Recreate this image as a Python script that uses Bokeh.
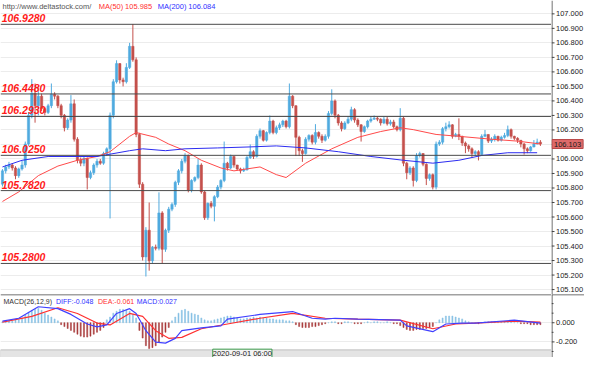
from bokeh.plotting import figure
from bokeh.layouts import column, row
from bokeh.models import (ColumnDataSource, Span, Label, FixedTicker, Grid,
                          Range1d, BoxAnnotation)
from bokeh.core.properties import value
from bokeh.embed import file_html
from bokeh.resources import INLINE

# ---------------- data ----------------
opens = [105.826, 105.918, 105.945, 105.958, 105.938, 105.885, 105.931, 105.958, 106.103, 106.301,
         106.453, 106.367, 106.433, 106.347, 106.321, 106.367, 106.446, 106.433, 106.367, 106.301,
         106.215, 106.268, 106.380, 106.136, 105.991, 105.971, 106.004, 105.872, 105.905, 105.958,
         105.984, 105.971, 106.037, 106.070, 106.301, 106.532, 106.657, 106.545, 106.532, 106.631,
         106.776, 106.683, 106.169, 105.826, 105.325, 105.509, 105.298, 105.391, 105.384, 105.628,
         105.377, 105.509, 105.654, 105.687, 105.839, 105.918, 105.984, 106.024, 105.786, 105.852,
         105.872, 105.958, 105.773, 105.595, 105.694, 105.674, 105.740, 105.806, 105.852, 105.971,
         105.938, 106.017, 105.958, 105.931, 105.918, 105.925, 106.010, 106.050, 106.017, 106.156,
         106.195, 106.129, 106.182, 106.261, 106.182, 106.215, 106.235, 106.261, 106.222, 106.433,
         106.367, 106.149, 106.057, 106.037, 106.136, 106.162, 106.116, 106.182, 106.156, 106.129,
         106.156, 106.314, 106.400, 106.301, 106.248, 106.209, 106.248, 106.274, 106.340, 106.268,
         106.235, 106.189, 106.222, 106.261, 106.274, 106.281, 106.274, 106.248, 106.274, 106.242,
         106.255, 106.222, 106.202, 106.281, 105.971, 105.905, 105.938, 105.852, 106.024, 106.037,
         105.964, 105.866, 105.892, 105.806, 106.103, 106.116, 106.209, 106.222, 106.235, 106.156,
         106.169, 106.156, 106.110, 106.090, 106.070, 106.037, 106.050, 106.030, 106.156, 106.169,
         106.123, 106.136, 106.156, 106.129, 106.149, 106.162, 106.202, 106.156, 106.142, 106.129,
         106.103, 106.070, 106.057, 106.083, 106.103, 106.116]

closes = [105.918, 105.945, 105.958, 105.938, 105.885, 105.931, 105.958, 106.103, 106.301, 106.453,
          106.367, 106.433, 106.347, 106.321, 106.367, 106.446, 106.433, 106.367, 106.301, 106.215,
          106.268, 106.380, 106.136, 105.991, 105.971, 106.004, 105.872, 105.905, 105.958, 105.984,
          105.971, 106.037, 106.070, 106.301, 106.532, 106.657, 106.545, 106.532, 106.631, 106.776,
          106.683, 106.169, 105.826, 105.325, 105.509, 105.298, 105.391, 105.384, 105.628, 105.377,
          105.509, 105.654, 105.687, 105.839, 105.918, 105.984, 106.024, 105.786, 105.852, 105.872,
          105.958, 105.773, 105.595, 105.694, 105.674, 105.740, 105.806, 105.852, 105.971, 105.938,
          106.017, 105.958, 105.931, 105.918, 105.925, 106.010, 106.050, 106.017, 106.156, 106.195,
          106.129, 106.182, 106.261, 106.182, 106.215, 106.235, 106.261, 106.222, 106.433, 106.367,
          106.149, 106.057, 106.037, 106.136, 106.162, 106.116, 106.182, 106.156, 106.129, 106.156,
          106.314, 106.400, 106.301, 106.248, 106.209, 106.248, 106.274, 106.340, 106.268, 106.235,
          106.189, 106.222, 106.261, 106.274, 106.281, 106.274, 106.248, 106.274, 106.242, 106.255,
          106.222, 106.202, 106.281, 105.971, 105.905, 105.938, 105.852, 106.024, 106.037, 105.964,
          105.866, 105.892, 105.806, 106.103, 106.116, 106.209, 106.222, 106.235, 106.156, 106.169,
          106.156, 106.110, 106.090, 106.070, 106.037, 106.050, 106.030, 106.156, 106.169, 106.123,
          106.136, 106.156, 106.129, 106.149, 106.162, 106.202, 106.156, 106.142, 106.129, 106.103,
          106.070, 106.057, 106.083, 106.103, 106.116, 106.103]

highs = [105.93, 105.96, 105.98, 105.97, 105.95, 105.94, 105.99, 106.12, 106.32, 106.55,
         106.52, 106.50, 106.45, 106.36, 106.38, 106.52, 106.46, 106.44, 106.38, 106.31,
         106.28, 106.44, 106.41, 106.15, 106.01, 106.02, 106.01, 105.92, 105.97, 106.00,
         106.00, 106.05, 106.08, 106.32, 106.55, 106.68, 106.66, 106.56, 106.66, 106.80,
         106.93, 106.70, 106.18, 105.84, 105.53, 105.70, 105.40, 105.41, 105.77, 105.64,
         105.52, 105.67, 105.70, 105.85, 105.93, 106.00, 106.04, 106.03, 105.86, 105.88,
         106.00, 105.97, 105.78, 105.70, 105.71, 105.75, 105.82, 105.86, 106.12, 105.98,
         106.03, 106.02, 105.96, 105.94, 105.94, 106.02, 106.10, 106.06, 106.17, 106.21,
         106.20, 106.19, 106.30, 106.27, 106.23, 106.25, 106.27, 106.27, 106.52, 106.44,
         106.37, 106.16, 106.07, 106.15, 106.17, 106.17, 106.24, 106.19, 106.17, 106.17,
         106.33, 106.48, 106.41, 106.31, 106.26, 106.26, 106.29, 106.36, 106.35, 106.28,
         106.24, 106.23, 106.27, 106.29, 106.30, 106.29, 106.28, 106.29, 106.29, 106.27,
         106.27, 106.23, 106.35, 106.29, 105.98, 105.95, 105.95, 106.04, 106.05, 106.04,
         105.97, 105.90, 105.90, 106.12, 106.13, 106.22, 106.25, 106.26, 106.24, 106.18,
         106.28, 106.16, 106.12, 106.10, 106.08, 106.06, 106.06, 106.17, 106.20, 106.17,
         106.15, 106.17, 106.16, 106.16, 106.18, 106.23, 106.21, 106.16, 106.15, 106.13,
         106.11, 106.08, 106.09, 106.13, 106.14, 106.13]

lows = [105.81, 105.90, 105.93, 105.92, 105.86, 105.87, 105.92, 105.94, 106.09, 106.28,
        106.25, 106.30, 106.33, 106.30, 106.31, 106.35, 106.41, 106.35, 106.28, 106.19,
        106.20, 106.25, 106.12, 105.97, 105.95, 105.95, 105.79, 105.86, 105.89, 105.94,
        105.96, 105.96, 106.02, 105.59, 106.28, 106.52, 106.52, 106.50, 106.52, 106.62,
        106.67, 106.15, 105.80, 105.30, 105.19, 105.23, 105.28, 105.37, 105.37, 105.28,
        105.36, 105.49, 105.64, 105.67, 105.82, 105.90, 105.97, 105.77, 105.77, 105.84,
        105.86, 105.76, 105.58, 105.58, 105.66, 105.57, 105.73, 105.79, 105.84, 105.92,
        105.93, 105.94, 105.92, 105.90, 105.91, 105.92, 106.00, 106.00, 106.01, 106.14,
        106.12, 106.12, 106.17, 106.17, 106.17, 106.20, 106.22, 106.21, 106.21, 106.35,
        106.02, 106.02, 105.98, 106.03, 106.12, 106.10, 106.10, 106.14, 106.11, 106.12,
        106.14, 106.30, 106.28, 106.23, 106.19, 106.20, 106.24, 106.26, 106.25, 106.22,
        106.12, 106.18, 106.21, 106.25, 106.27, 106.26, 106.23, 106.24, 106.23, 106.23,
        106.21, 106.19, 106.19, 105.95, 105.86, 105.89, 105.81, 105.84, 106.01, 105.95,
        105.82, 105.85, 105.79, 105.79, 106.09, 106.10, 106.19, 106.21, 106.14, 106.15,
        106.13, 106.09, 106.04, 106.05, 106.01, 106.02, 105.99, 106.02, 106.15, 106.11,
        106.11, 106.12, 106.12, 106.12, 106.14, 106.15, 106.14, 106.13, 106.11, 106.08,
        106.03, 106.04, 106.05, 106.08, 106.10, 106.09]

ma50_idx = [0, 5, 11, 17, 23, 29, 33, 39, 41, 47, 51, 56, 61, 67, 71, 79, 84, 87, 93, 101,
            109, 116, 122, 126, 133, 140, 150, 158, 165]
ma50_val = [105.707, 105.773, 105.885, 105.951, 105.991, 106.017, 106.050, 106.156, 106.182, 106.149,
            106.103, 106.057, 105.991, 105.938, 105.918, 105.945, 105.892, 105.872, 105.971, 106.070,
            106.149, 106.189, 106.215, 106.202, 106.169, 106.156, 106.136, 106.123, 106.103]

ma200_idx = [0, 6, 14, 29, 39, 43, 50, 56, 66, 76, 84, 93, 103, 113, 123, 132, 140, 147, 155, 164]
ma200_val = [105.945, 105.991, 106.017, 106.017, 106.057, 106.070, 106.057, 106.070, 106.076, 106.083,
             106.090, 106.076, 106.050, 106.017, 105.991, 105.971, 105.991, 106.024, 106.043, 106.043]

levels = [106.928, 106.448, 106.293, 106.025, 105.782, 105.280]
level_labels = ["106.9280", "106.4480", "106.2930", "106.0250", "105.7820", "105.2800"]

price_ticks = [105.1, 105.2, 105.3, 105.4, 105.5, 105.6, 105.7, 105.8, 105.9, 106.0,
               106.1, 106.2, 106.3, 106.4, 106.5, 106.6, 106.7, 106.8, 106.9, 107.0]
price_tick_labels = ["105.100", "105.200", "105.300", "105.400", "105.500", "105.600", "105.700",
                     "105.800", "105.900", "106.000", "106.100", "106.200", "106.300", "106.400",
                     "106.500", "106.600", "106.700", "106.800", "106.900", "107.000"]
last_price = 106.103
last_price_label = "106.103"

macd_hist = [0.01, 0.02, 0.02, 0.02, 0.03, 0.03,
             0.05, 0.08, 0.11, 0.13, 0.14, 0.15, 0.13,
             0.10, 0.08, 0.06, 0.04, 0.02,
             -0.02, -0.04, -0.06, -0.08, -0.10, -0.12, -0.14, -0.15, -0.15, -0.14, -0.12, -0.10, -0.08, -0.05,
             0.03, 0.06, 0.10, 0.12, 0.14, 0.14, 0.13, 0.12, 0.09, 0.05,
             -0.08, -0.16, -0.24, -0.27, -0.26, -0.24, -0.20, -0.15, -0.10, -0.05,
             0.02, 0.06, 0.10, 0.13, 0.14, 0.12, 0.10, 0.09, 0.08, 0.05, 0.03, 0.02, 0.02,
             0.03, 0.04, 0.05, 0.06, 0.07, 0.07, 0.06, 0.05, 0.04, 0.04, 0.05, 0.05, 0.06, 0.05, 0.06,
             0.05, 0.05, 0.04, 0.04, 0.03, 0.03, 0.03, 0.02, 0.02, 0.01,
             -0.02, -0.04, -0.05, -0.05, -0.05, -0.04, -0.04, -0.03, -0.02, -0.01, 0.00,
             0.01, 0.01, -0.01, -0.01, 0.01, 0.01, 0.00, -0.01, -0.01, -0.01, 0.00, 0.01, 0.00, 0.01,
             0.01, 0.00, 0.00, 0.01, 0.00, -0.01, -0.01,
             -0.03, -0.05, -0.07, -0.08, -0.08, -0.07, -0.07, -0.06, -0.06, -0.05, -0.04, 0.00, 0.03,
             0.05, 0.07, 0.07, 0.07, 0.06, 0.05, 0.04, 0.02,
             0.01, 0.00, 0.00, -0.01, 0.00, 0.01, 0.01, 0.01, 0.01, 0.01, 0.01, 0.01, 0.01, 0.01,
             0.00, 0.00, -0.01, -0.01, -0.01, -0.02, -0.02, -0.02, -0.02]

diff_idx = [0, 5, 11, 17, 21, 26, 29, 32, 35, 39, 41, 44, 47, 50, 53, 55, 61, 67, 69, 79,
            89, 95, 99, 102, 109, 122, 124, 132, 136, 141, 145, 157, 165]
diff_val = [0.017, 0.047, 0.167, 0.147, 0.087, -0.013, -0.043, -0.023, 0.097, 0.147,
            0.097, -0.083, -0.203, -0.213, -0.163, -0.083, -0.053, -0.033, 0.037, 0.087,
            0.117, 0.047, 0.037, 0.047, 0.037, 0.027, -0.033, -0.093, -0.013, -0.003,
            -0.003, 0.027, -0.003]

dea_idx = [0, 9, 17, 23, 29, 33, 39, 43, 47, 51, 55, 61, 69, 79, 89, 99, 109, 122, 132, 139,
           145, 157, 165]
dea_val = [0.007, 0.067, 0.157, 0.097, -0.003, -0.023, 0.097, 0.067, -0.083, -0.163,
           -0.153, -0.063, -0.013, 0.047, 0.097, 0.047, 0.037, 0.027, -0.063, -0.013,
           -0.003, 0.017, 0.007]

macd_ticks = [-0.2, 0.0]
macd_tick_labels = ["-0.200", "0.000"]
macd_minor_ticks = [-0.3, -0.1, 0.1, 0.2]
date_label = "2020-09-01 06:00"

# ---------------- styles ----------------
UP = "#4faadf"
DOWN = "#c4504c"
FONT = "Liberation Sans"
AXIS_COL = "#444444"
X0, X1 = -0.6, 168.4
PLOT_W, AXIS_W = 551, 33
MAIN_H, MACD_H = 294, 63
PRICE_RANGE = (105.066, 107.092)
MACD_RANGE = (-0.363, 0.295)


def make_fig(width, height, x_range, y_range):
    f = figure(width=width, height=height, x_range=x_range, y_range=y_range,
               output_backend="svg", toolbar_location=None,
               x_axis_location=None, y_axis_location=None,
               min_border_left=0, min_border_right=0, min_border_top=0, min_border_bottom=0)
    f.grid.visible = False
    f.outline_line_color = None
    return f


def make_axis(yr, height, ticks, labels, minor=None, price_box=None):
    a = make_fig(AXIS_W, height, Range1d(0, AXIS_W), yr)
    a.segment(x0=0, x1=3, y0=ticks, y1=ticks, line_color=AXIS_COL, line_width=1)
    if minor:
        a.segment(x0=0, x1=2, y0=minor, y1=minor, line_color=AXIS_COL, line_width=1)
    a.add_layout(Span(location=0.5, dimension="height", line_color=AXIS_COL, line_width=1))
    a.text(x=4.5, y=ticks, text=labels, text_baseline="middle", text_align="left",
           text_font=value(FONT), text_font_size=value("7.5px"), text_color="#222222")
    if price_box is not None:
        yv, txt = price_box
        a.add_layout(Label(x=0.5, y=yv, text=txt, text_baseline="middle", text_align="left",
                           text_font=FONT, text_font_size="7.5px", text_color="#1a1a1a",
                           background_fill_color="#de6a6a", border_line_color="#b84848",
                           padding=2))
    return a


n = len(closes)
xs = list(range(n))
colors = [UP if c >= o else DOWN for o, c in zip(opens, closes)]
src = ColumnDataSource(dict(
    x=xs, high=highs, low=lows,
    top=[max(o, c) for o, c in zip(opens, closes)],
    bottom=[min(o, c) for o, c in zip(opens, closes)],
    color=colors))

xr = Range1d(X0, X1)
pyr = Range1d(*PRICE_RANGE)
myr = Range1d(*MACD_RANGE)

# ---------------- price panel ----------------
p = make_fig(PLOT_W, MAIN_H, xr, pyr)
p.add_layout(Grid(dimension=1, ticker=FixedTicker(ticks=price_ticks), grid_line_color="#ececec"))

for lv in levels:
    p.add_layout(Span(location=lv, dimension="width", line_color="#4a4a4a", line_width=1))

p.segment(x0="x", y0="low", x1="x", y1="high", line_color="color", line_width=1, source=src)
p.vbar(x="x", width=0.72, top="top", bottom="bottom", fill_color="color",
       line_color="color", line_width=0.5, source=src)

p.line(ma50_idx, ma50_val, line_color="#ff4a4a", line_width=1)
p.line(ma200_idx, ma200_val, line_color="#2c2cf0", line_width=1)

for lv, txt in zip(levels, level_labels):
    p.add_layout(Label(x=-0.25, y=lv, text=txt, y_offset=2, text_baseline="bottom",
                       text_font=FONT, text_font_style="bold italic", text_font_size="10.5px",
                       text_color="#ff1a1a"))

hdr_y = 107.054
for xx, txt, col in [(0.0, "http://www.deltastock.com/", "#555555"),
                     (29.5, "MA(50)", "#ff3030"), (37.6, "105.985", "#ff3030"),
                     (47.6, "MA(200)", "#3030ff"), (57.0, "106.084", "#3030ff")]:
    p.add_layout(Label(x=xx, y=hdr_y, text=txt, text_baseline="middle",
                       text_font=FONT, text_font_size="7.5px", text_color=col))

pa = make_axis(pyr, MAIN_H, price_ticks, price_tick_labels,
               price_box=(last_price, last_price_label))

# ---------------- MACD panel ----------------
m = make_fig(PLOT_W, MACD_H, xr, myr)
m.add_layout(Grid(dimension=1, ticker=FixedTicker(ticks=macd_ticks), grid_line_color="#ececec"))

hsrc = ColumnDataSource(dict(x=xs, top=macd_hist,
                             color=["#86c0e4" if h >= 0 else "#a83a3a" for h in macd_hist]))
m.vbar(x="x", width=0.32, top="top", bottom=0, fill_color="color", line_color="color",
       line_width=0.5, source=hsrc)
m.line(dea_idx, dea_val, line_color="#ff3030", line_width=1.2)
m.line(diff_idx, diff_val, line_color="#4040ff", line_width=1.2)

m.add_layout(BoxAnnotation(top=-0.283, fill_color="#e4e4e4", fill_alpha=1.0,
                           line_color="#555555", line_width=1))
m.add_layout(Span(location=MACD_RANGE[1], dimension="width", line_color=AXIS_COL, line_width=1.5))

for xx, txt, col in [(0.3, "MACD(26,12,9)", "#333333"), (16.4, "DIFF:-0.048", "#3030ff"),
                     (29.3, "DEA:-0.061", "#ff3030"), (41.2, "MACD:0.027", "#3030ff")]:
    m.add_layout(Label(x=xx, y=0.225, text=txt, text_baseline="middle",
                       text_font=FONT, text_font_size="7px", text_color=col))

m.add_layout(Label(x=64.5, y=-0.323, text=date_label, text_baseline="middle",
                   text_font=FONT, text_font_size="7.5px", text_color="#222222",
                   background_fill_color="#f4f4f4", border_line_color="#3a9a4a"))

ma = make_axis(myr, MACD_H, macd_ticks, macd_tick_labels, minor=macd_minor_ticks)
ma.add_layout(Span(location=MACD_RANGE[1], dimension="width", line_color=AXIS_COL, line_width=1.5))

layout = column(row(p, pa, spacing=0), row(m, ma, spacing=0), spacing=0)
open("out.html", "w").write(file_html(layout, INLINE))
